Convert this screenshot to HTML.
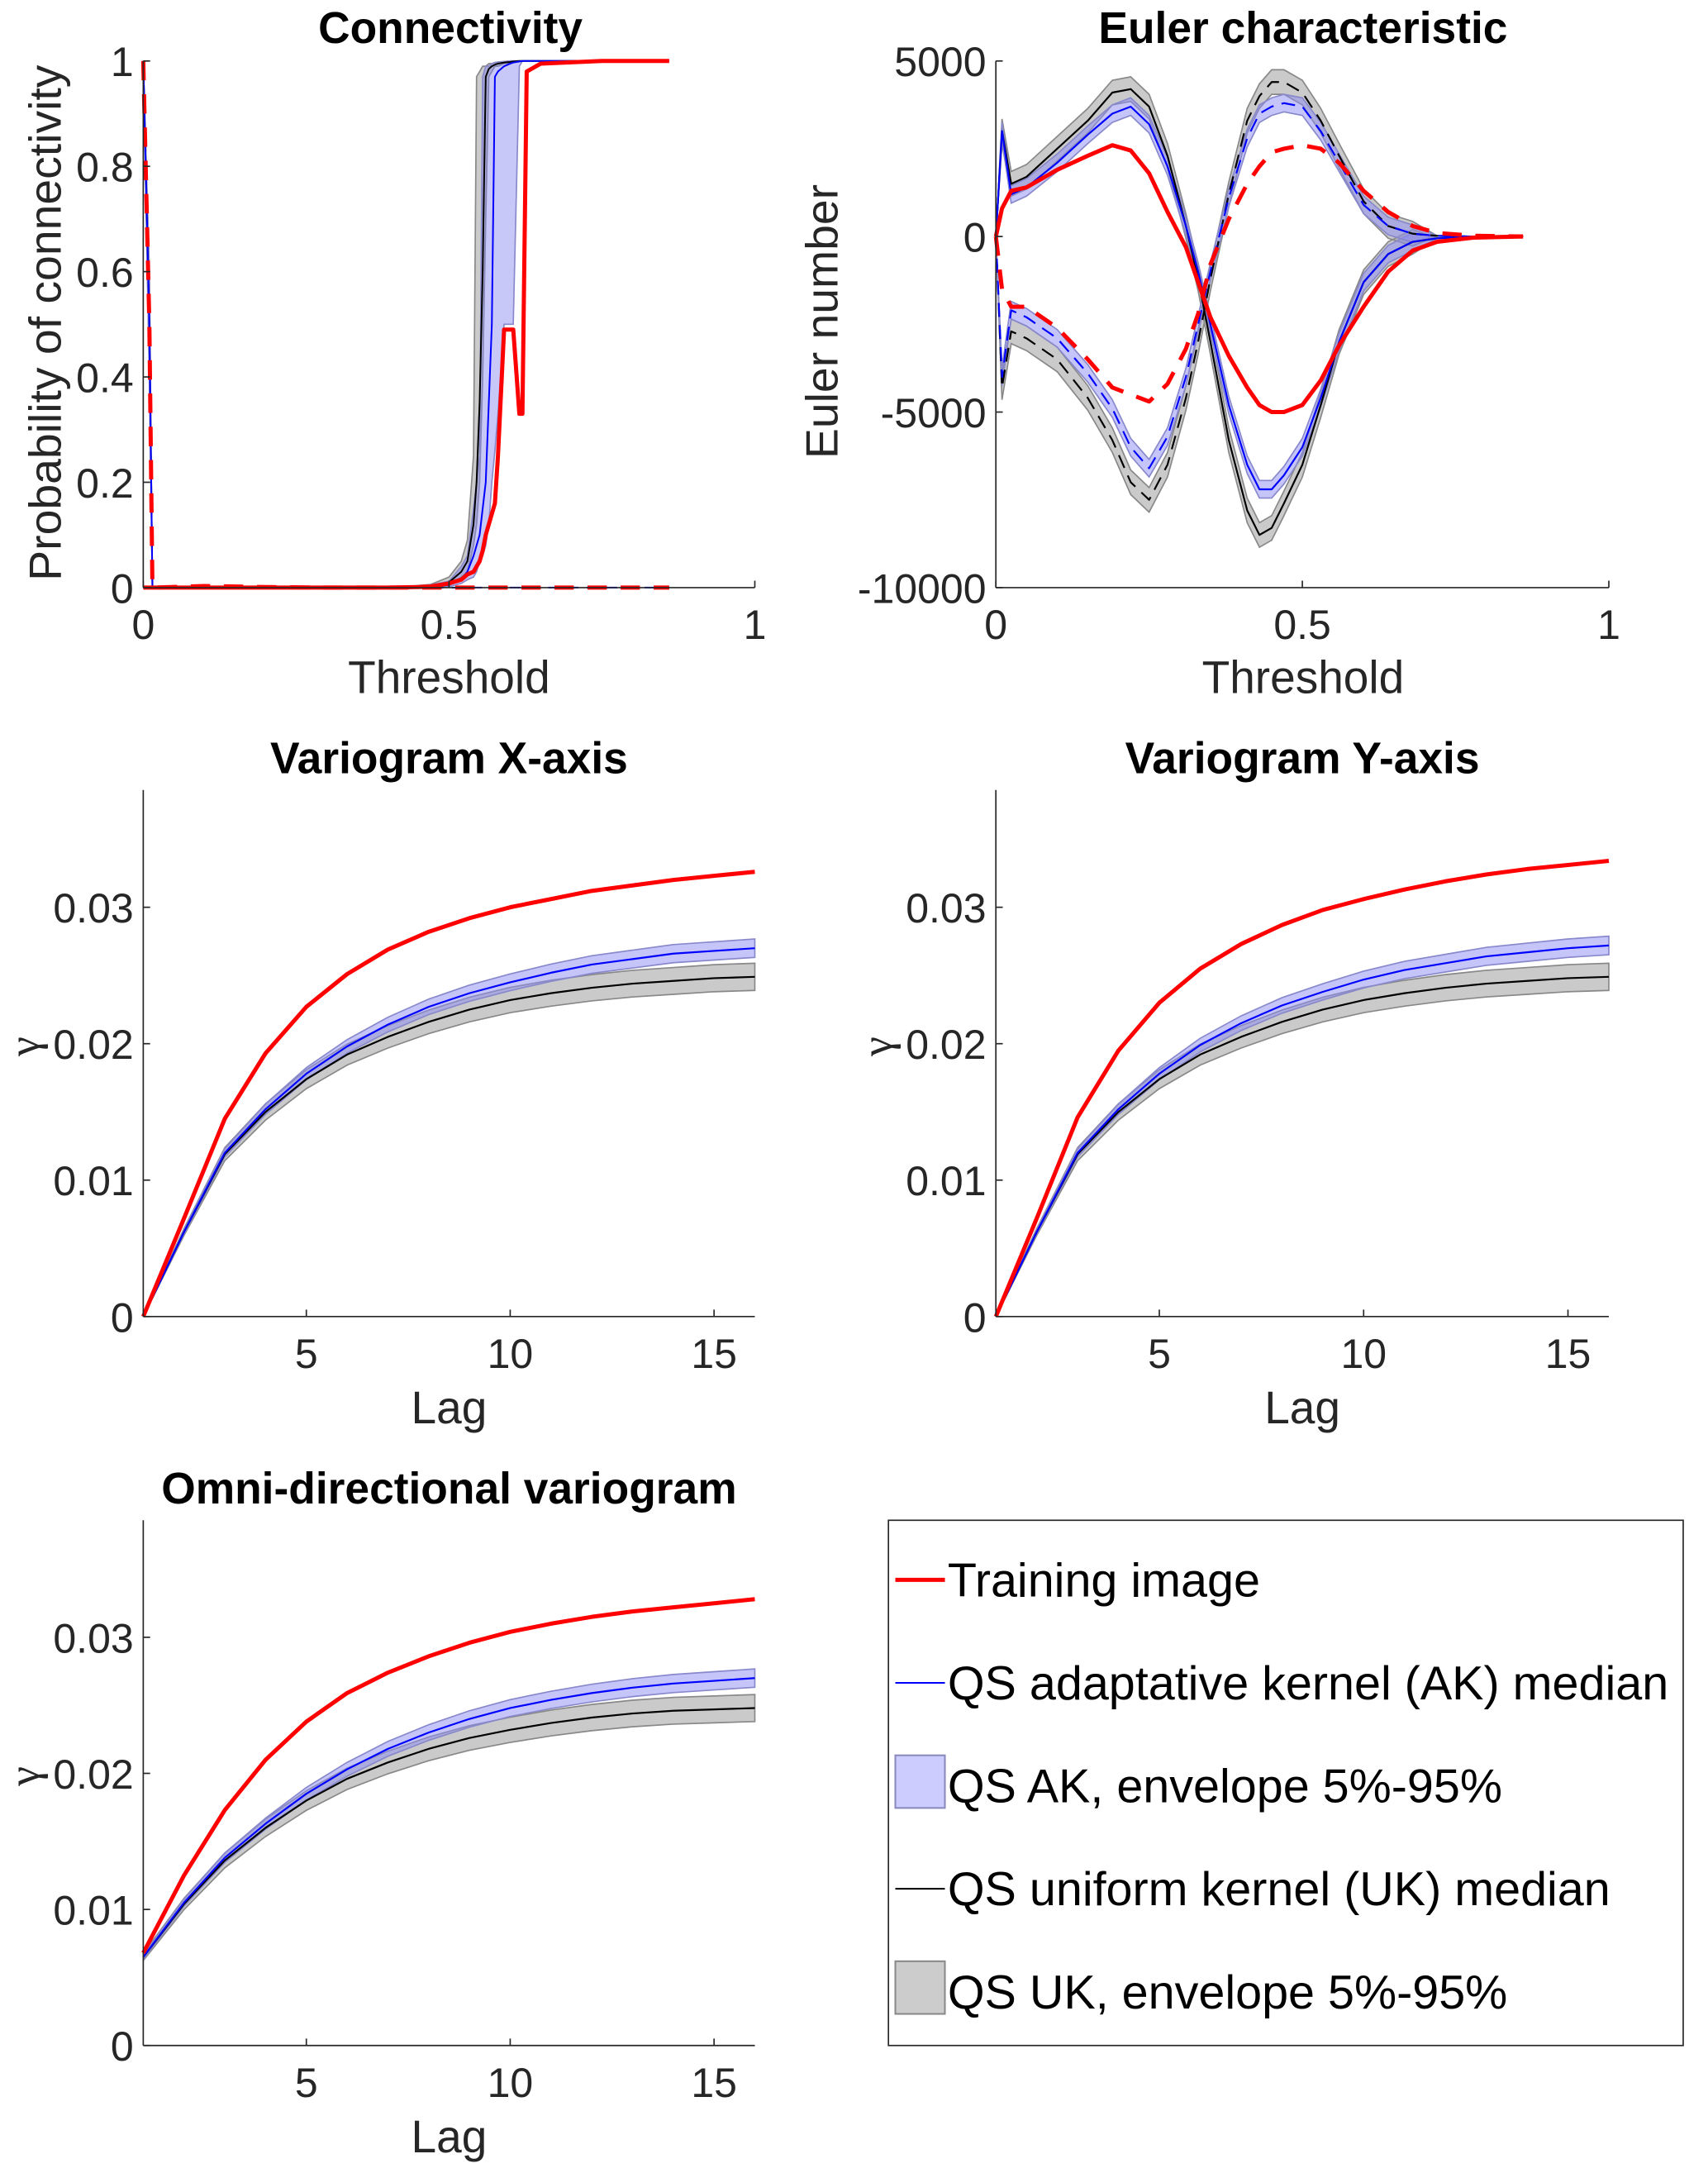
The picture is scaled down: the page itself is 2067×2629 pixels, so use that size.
<!DOCTYPE html>
<html><head><meta charset="utf-8"><style>
html,body{margin:0;padding:0;background:#fff;}
svg{display:block;font-family:"Liberation Sans",Arial,sans-serif;}
</style></head><body>
<svg id="fig" width="2067" height="2629" viewBox="0 0 1240 1568" preserveAspectRatio="none" xmlns="http://www.w3.org/2000/svg"></svg>
<script>
// ---------- Data ----------
const connT = [0,0.01,0.015,0.1,0.2,0.3,0.4,0.45,0.47,0.5,0.52,0.53,0.54,0.545,0.55,0.555,0.56,0.565,0.57,0.575,0.58,0.59,0.6,0.605,0.615,0.62,0.627,0.65,0.75,0.86];
const connRed  = [0,0,0,0,0,0,0,0.001,0.002,0.008,0.015,0.025,0.03,0.04,0.05,0.07,0.1,0.12,0.14,0.16,0.25,0.49,0.49,0.49,0.33,0.33,0.98,0.995,1,1];
const connBlack= [1,0.5,0,0,0,0,0,0.002,0.003,0.01,0.03,0.05,0.12,0.2,0.35,0.6,0.97,0.985,0.99,0.993,0.995,0.997,0.998,0.999,1,1,1,1,1,1];
const connBlue = [1,0.5,0,0,0,0,0,0.001,0.002,0.005,0.015,0.03,0.06,0.08,0.1,0.15,0.2,0.35,0.5,0.97,0.98,0.99,0.995,0.997,0.999,1,1,1,1,1];
const connBlackLo=[1,0.4,0,0,0,0,0,0,0.001,0.005,0.02,0.03,0.08,0.12,0.2,0.4,0.7,0.97,0.98,0.99,0.99,0.995,0.997,0.998,1,1,1,1,1,1];
const connBlackHi=[1,0.6,0,0,0,0,0,0.004,0.006,0.02,0.05,0.09,0.25,0.97,0.98,0.99,0.99,0.995,0.995,0.997,0.998,0.999,1,1,1,1,1,1,1,1];
const connBlueLo =[1,0.4,0,0,0,0,0,0,0.001,0.002,0.008,0.015,0.02,0.03,0.05,0.06,0.08,0.12,0.2,0.26,0.33,0.5,0.5,0.5,0.99,1,1,1,1,1];
const connBlueHi =[1,0.6,0,0,0,0,0,0.003,0.005,0.012,0.04,0.06,0.15,0.2,0.25,0.97,0.99,0.99,0.995,0.997,0.998,0.999,1,1,1,1,1,1,1,1];
const connRedDash= [1,0.5,0,0.003,0.001,0,0,0,0,0,0,0,0,0,0,0,0,0,0,0,0,0,0,0,0,0,0,0,0,0];

const eulT   = [0,0.01,0.025,0.05,0.1,0.15,0.19,0.22,0.25,0.28,0.31,0.33,0.35,0.38,0.41,0.43,0.45,0.47,0.5,0.53,0.56,0.6,0.64,0.68,0.72,0.78,0.86];
const eulRedS  = [0,800,1300,1400,1900,2300,2600,2450,1800,700,-300,-1300,-2300,-3400,-4300,-4800,-5000,-5000,-4800,-4100,-3100,-2000,-1000,-400,-150,-30,0];
const eulRedD  = [0,-1500,-2000,-2000,-2600,-3500,-4300,-4500,-4700,-4200,-3200,-2200,-800,500,1500,2000,2400,2500,2600,2500,2100,1300,700,300,100,20,0];
const eulBlackS= [0,3000,1500,1700,2500,3300,4100,4200,3700,2300,300,-1200,-3000,-5800,-7800,-8500,-8300,-7600,-6500,-4800,-3000,-1300,-500,-150,-50,0,0];
const eulBlackD= [0,-4300,-2700,-2900,-3500,-4600,-5800,-7000,-7500,-6500,-4600,-3000,-1200,1200,3300,4000,4400,4400,4100,3300,2300,1000,300,80,20,0,0];
const eulBlueS = [0,3000,1200,1400,2100,2900,3500,3700,3200,2000,300,-1000,-2500,-4800,-6500,-7200,-7200,-6800,-6000,-4600,-3000,-1300,-500,-150,-50,0,0];
const eulBlueD = [0,-4000,-2100,-2300,-2900,-3900,-4900,-6000,-6600,-5700,-4000,-2500,-1000,1100,2800,3500,3700,3800,3700,3000,2100,900,300,80,20,0,0];

const lags = [1,2,3,4,5,6,7,8,9,10,11,12,13,14,15,16];
const vxRed  = [0,0.0072,0.0145,0.0193,0.0227,0.0251,0.0269,0.0282,0.0292,0.0300,0.0306,0.0312,0.0316,0.0320,0.0323,0.0326];
const vxBlue = [0,0.0062,0.0120,0.0152,0.0178,0.0198,0.0214,0.0227,0.0237,0.0245,0.0252,0.0258,0.0262,0.0266,0.0268,0.0270];
const vxBlack= [0,0.0062,0.0119,0.0150,0.0174,0.0192,0.0205,0.0216,0.0225,0.0232,0.0237,0.0241,0.0244,0.0246,0.0248,0.0249];
const vyRed  = [0,0.0072,0.0146,0.0195,0.0230,0.0255,0.0273,0.0287,0.0298,0.0306,0.0313,0.0319,0.0324,0.0328,0.0331,0.0334];
const vyBlue = [0,0.0062,0.0120,0.0152,0.0178,0.0199,0.0215,0.0228,0.0238,0.0247,0.0254,0.0259,0.0264,0.0267,0.0270,0.0272];
const vyBlack= [0,0.0062,0.0119,0.0150,0.0174,0.0192,0.0205,0.0216,0.0225,0.0232,0.0237,0.0241,0.0244,0.0246,0.0248,0.0249];
const voRed  = [0.0068,0.0125,0.0173,0.0210,0.0238,0.0259,0.0274,0.0286,0.0296,0.0304,0.0310,0.0315,0.0319,0.0322,0.0325,0.0328];
const voBlue = [0.0065,0.0105,0.0138,0.0163,0.0185,0.0203,0.0218,0.0230,0.0240,0.0248,0.0254,0.0259,0.0263,0.0266,0.0268,0.0270];
const voBlack= [0.0065,0.0104,0.0136,0.0160,0.0180,0.0196,0.0208,0.0218,0.0226,0.0232,0.0237,0.0241,0.0244,0.0246,0.0247,0.0248];

const connTicksY = [0,0.2,0.4,0.6,0.8,1];
const connTickLabY = ["0","0.2","0.4","0.6","0.8","1"];
const thrTicks = [0,0.5,1];
const thrTickLab = ["0","0.5","1"];
const eulTicks = [-10000,-5000,0,5000];
const eulTickLab = ["-10000","-5000","0","5000"];
const varTicksY = [0,0.01,0.02,0.03];
const varTickLabY = ["0","0.01","0.02","0.03"];
const lagTicks = [5,10,15];
const lagTickLab = ["5","10","15"];

// ---------- Helpers ----------
const NS="http://www.w3.org/2000/svg";
const svg=document.getElementById('fig');
function mk(tag,attrs,parent){const e=document.createElementNS(NS,tag);for(const k in attrs)e.setAttribute(k,attrs[k]);(parent||svg).appendChild(e);return e;}
function txt(s,x,y,size,anchor,parent,extra){const e=mk('text',Object.assign({x:x,y:y,'font-size':size,'text-anchor':anchor||'middle',fill:'#262626'},extra||{}),parent);e.textContent=s;return e;}
function pathD(xs,ys,sx,sy){return xs.map((v,i)=>(i?'L':'M')+sx(v).toFixed(2)+','+sy(ys[i]).toFixed(2)).join('');}
function bandD(xs,lo,hi,sx,sy){let d=pathD(xs,hi,sx,sy);for(let i=xs.length-1;i>=0;i--)d+='L'+sx(xs[i]).toFixed(2)+','+sy(lo[i]).toFixed(2);return d+'Z';}
function lin(d0,d1,r0,r1){return v=>r0+(v-d0)/(d1-d0)*(r1-r0);}

function axes(g,x0,x1,y0,y1,sx,sy,xt,xl,yt,yl){
  const ax=mk('line',{x1:x0,y1:y1,x2:x0,y2:y0,stroke:'#262626','stroke-width':1},g);
  
  const bx=mk('line',{x1:x0,y1:y1,x2:x1,y2:y1,stroke:'#262626','stroke-width':1},g);
  
  xt.forEach((v,i)=>{mk('line',{x1:sx(v),x2:sx(v),y1:y1,y2:y1-5,stroke:'#262626'},g);
    const t=txt(xl[i],sx(v),y1+37,30,'middle',g);});
  yt.forEach((v,i)=>{mk('line',{x1:x0,x2:x0+5,y1:sy(v),y2:sy(v),stroke:'#262626'},g);
    const t=txt(yl[i],x0-7,sy(v)+11,30,'end',g);});
}
function line(g,xs,ys,sx,sy,color,w,dash,name){const p=mk('path',{d:pathD(xs,ys,sx,sy),fill:'none',stroke:color,'stroke-width':w,'stroke-linejoin':'round'},g);if(dash)p.setAttribute('stroke-dasharray',dash);return p;}
function band(g,xs,lo,hi,sx,sy,fill,edge,name){const p=mk('path',{d:bandD(xs,lo,hi,sx,sy),fill:fill,stroke:edge,'stroke-width':1},g);return p;}
function title(g,s,x,y){const t=txt(s,x,y,32,'middle',g,{'font-weight':'bold',fill:'#000'});}

// ---------- Connectivity ----------
(function(){
  const g=mk('g',{});
  const sx=lin(0,1,104,548), sy=lin(0,1,424,44);
  band(g,connT,connBlackLo,connBlackHi,sx,sy,'rgba(140,140,140,0.45)','#888','uk-envelope');
  band(g,connT,connBlueLo,connBlueHi,sx,sy,'rgba(130,130,240,0.45)','#8888cc','ak-envelope');
  line(g,connT,connBlack,sx,sy,'#000',1.2,null,'uk-median');
  line(g,connT,connBlue,sx,sy,'#00f',1.2,null,'ak-median');
  line(g,connT.filter(t=>t<=0.86),connT.map(()=>0),sx,sy,'#00f',1.2,'8,6','ak-median-dashed');
  line(g,connT,connRed,sx,sy,'#f00',3,null,'training-image');
  line(g,connT,connRedDash,sx,sy,'#f00',3,'14,10','training-image-dashed');
  axes(g,104,548,44,424,sx,sy,thrTicks,thrTickLab,connTicksY,connTickLabY);
  title(g,'Connectivity',327,31);
  const xl=txt('Threshold',326,500,33,'middle',g);
  const yl=txt('Probability of connectivity',0,0,33,'middle',g,{transform:'translate(44,233) rotate(-90)'});
})();

// ---------- Euler ----------
(function(){
  const g=mk('g',{});
  const sx=lin(0,1,723,1168), sy=lin(-10000,5000,424,44);
  const off=(a,d)=>a.map(v=>v+d*(Math.abs(v)>50?1:0));
  band(g,eulT,off(eulBlackS,-350),off(eulBlackS,350),sx,sy,'rgba(150,150,150,0.5)','#888','uk-envelope-solid');
  band(g,eulT,off(eulBlackD,-350),off(eulBlackD,350),sx,sy,'rgba(150,150,150,0.5)','#888','uk-envelope-dashed');
  band(g,eulT,off(eulBlueS,-250),off(eulBlueS,250),sx,sy,'rgba(140,140,245,0.5)','#8888cc','ak-envelope-solid');
  band(g,eulT,off(eulBlueD,-250),off(eulBlueD,250),sx,sy,'rgba(140,140,245,0.5)','#8888cc','ak-envelope-dashed');
  line(g,eulT,eulBlackS,sx,sy,'#000',1.3,null,'uk-median-solid');
  line(g,eulT,eulBlackD,sx,sy,'#000',1.3,'10,6','uk-median-dashed');
  line(g,eulT,eulBlueS,sx,sy,'#00f',1.3,null,'ak-median-solid');
  line(g,eulT,eulBlueD,sx,sy,'#00f',1.3,'10,6','ak-median-dashed');
  line(g,eulT,eulRedS,sx,sy,'#f00',3,null,'training-image-solid');
  line(g,eulT,eulRedD,sx,sy,'#f00',3,'14,10','training-image-dashed');
  axes(g,723,1168,44,424,sx,sy,thrTicks,thrTickLab,eulTicks,eulTickLab);
  title(g,'Euler characteristic',946,31);
  const xl=txt('Threshold',946,500,33,'middle',g);
  const yl=txt('Euler number',0,0,33,'middle',g,{transform:'translate(608,232) rotate(-90)'});
})();

// ---------- Variograms ----------
function vario(name,ttl,x0,x1,y0,y1,red,blue,black){
  const g=mk('g',{});
  const sx=lin(1,16,x0,x1), sy=lin(0,0.0386,y1,y0);
  const bw=blue.map(v=>v*0.025), kw=black.map(v=>v*0.04);
  band(g,lags,black.map((v,i)=>v-kw[i]),black.map((v,i)=>v+kw[i]),sx,sy,'rgba(150,150,150,0.5)','#888','uk-envelope');
  band(g,lags,blue.map((v,i)=>v-bw[i]),blue.map((v,i)=>v+bw[i]),sx,sy,'rgba(140,140,245,0.5)','#8888cc','ak-envelope');
  line(g,lags,black,sx,sy,'#000',1.3,null,'uk-median');
  line(g,lags,blue,sx,sy,'#00f',1.3,null,'ak-median');
  line(g,lags,red,sx,sy,'#f00',3,null,'training-image');
  axes(g,x0,x1,y0,y1,sx,sy,lagTicks,lagTickLab,varTicksY,varTickLabY);
  title(g,ttl,(x0+x1)/2,y0-12);
  const xl=txt('Lag',(x0+x1)/2,y1+77,33,'middle',g);
  const yl=txt('γ',0,0,32,'middle',g,{transform:'translate('+(x0-76)+','+(sy(0.02)+2)+') rotate(-90)','font-family':'"Liberation Serif",serif'});
}
vario('variogram-x-chart','Variogram X-axis',104,548,570,950,vxRed,vxBlue,vxBlack);
vario('variogram-y-chart','Variogram Y-axis',723,1168,570,950,vyRed,vyBlue,vyBlack);
vario('omni-variogram-chart','Omni-directional variogram',104,548,1097,1476,voRed,voBlue,voBlack);

// ---------- Legend ----------
(function(){
  const g=mk('g',{});
  mk('rect',{x:645,y:1097,width:577,height:379,fill:'#fff',stroke:'#262626','stroke-width':1},g);
  const entries=[['Training image','line','#f00',3],['QS adaptative kernel (AK) median','line','#00f',1.2],['QS AK, envelope 5%-95%','patch','#ccccff','#8888bb'],['QS uniform kernel (UK) median','line','#000',1.2],['QS UK, envelope 5%-95%','patch','#cccccc','#888']];
  entries.forEach((e,i)=>{
    const y=1140+i*74.3;
    const eg=mk('g',{},g);
    if(e[1]==='line')mk('line',{x1:650,x2:686,y1:y,y2:y,stroke:e[2],'stroke-width':e[3]},eg);
    else mk('rect',{x:650,y:y-22,width:36,height:38,fill:e[2],stroke:e[3],'stroke-width':1.2},eg);
    txt(e[0],688,y+12,34.5,'start',eg,{fill:'#000'});
  });
})();
</script>
</body></html>
